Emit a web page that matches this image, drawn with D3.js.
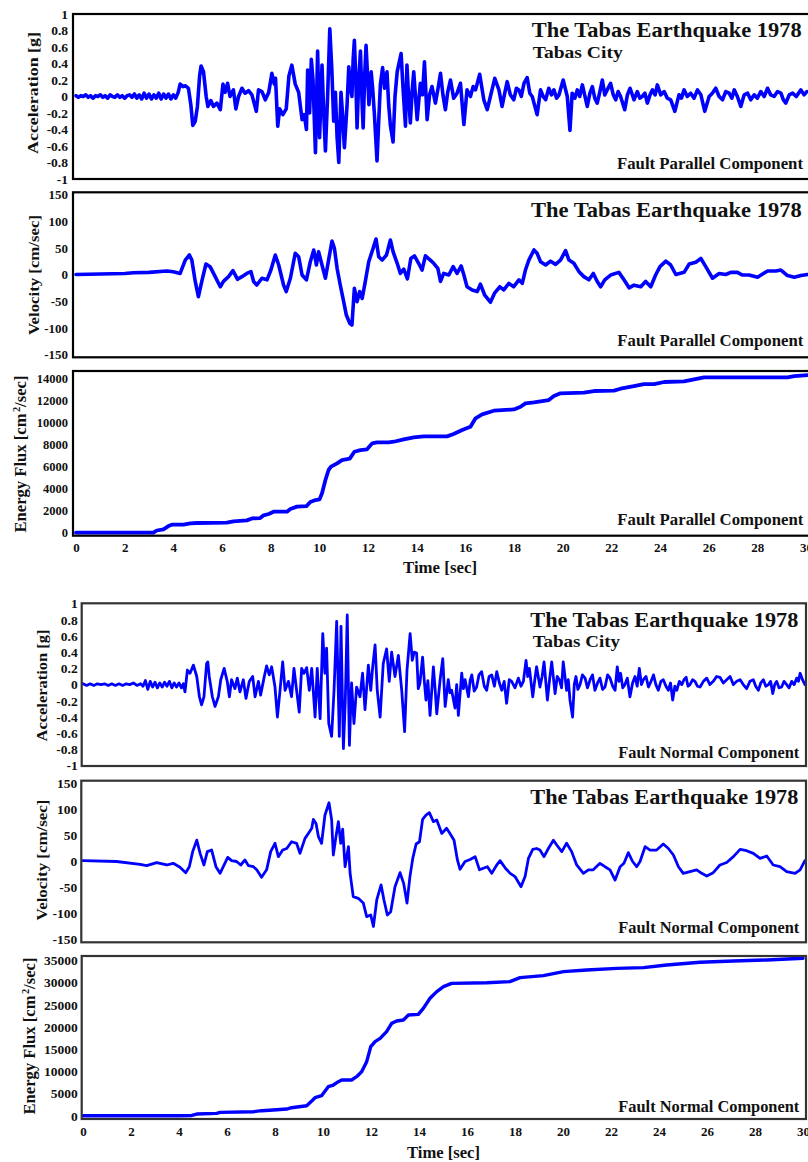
<!DOCTYPE html>
<html><head><meta charset="utf-8">
<script src="https://cdn.jsdelivr.net/npm/d3@7"></script>
<style>
body{margin:0;background:#fff;}
svg text{font-family:"Liberation Serif","Times New Roman",serif;font-weight:bold;fill:#111;}
</style></head><body>
<svg id="c" width="808" height="1162"></svg>
<script>
// ---------------- DATA ----------------
const timeTicks = [0,2,4,6,8,10,12,14,16,18,20,22,24,26,28,30];
const accTicks = [-1,-0.8,-0.6,-0.4,-0.2,0,0.2,0.4,0.6,0.8,1];
const velTicks = [-150,-100,-50,0,50,100,150];
const efluxTicksFP = [0,2000,4000,6000,8000,10000,12000,14000];
const efluxTicksFN = [0,5000,10000,15000,20000,25000,30000,35000];

const titleText = "The Tabas Earthquake 1978";
const stationText = "Tabas City";
const compFP = "Fault Parallel Component";
const compFN = "Fault Normal Component";

// Fault parallel acceleration [g]  ([time s, value])
const accFP = [
[0,0.01],[0.1,-0.01],[0.2,0.01],[0.3,0],[0.4,0.02],[0.5,-0.01],[0.6,0.01],[0.7,-0.02],[0.8,0.01],[0.9,0],
[1.0,0.02],[1.1,-0.01],[1.2,0.01],[1.3,-0.02],[1.4,0.02],[1.5,0],[1.6,-0.01],[1.7,0.02],[1.8,-0.01],[1.9,0.01],
[2.0,-0.02],[2.1,0.01],[2.2,0.02],[2.3,-0.01],[2.4,0.03],[2.5,-0.02],[2.6,0.02],[2.7,-0.03],[2.8,0.04],[2.9,-0.02],
[3.0,0.03],[3.1,-0.03],[3.2,0.02],[3.3,-0.02],[3.4,0.04],[3.5,-0.03],[3.6,0.03],[3.7,-0.02],[3.8,0.03],[3.9,-0.03],
[4.0,0.02],[4.1,-0.02],[4.2,0.05],[4.28,0.15],[4.4,0.12],[4.5,0.13],[4.62,0.10],[4.72,-0.10],[4.80,-0.35],[4.90,-0.30],
[4.99,-0.12],[5.08,0.25],[5.14,0.37],[5.24,0.30],[5.35,0.0],[5.42,-0.12],[5.54,-0.05],[5.65,-0.12],[5.79,-0.08],[5.93,-0.16],
[6.04,0.15],[6.13,0.05],[6.23,0.16],[6.33,0.0],[6.47,0.08],[6.57,-0.15],[6.68,0.0],[6.82,0.10],[6.95,0.04],[7.09,0.07],
[7.23,0.02],[7.41,-0.18],[7.50,0.08],[7.64,0.06],[7.78,-0.04],[7.92,0.05],[8.05,0.28],[8.15,0.15],[8.20,0.22],[8.29,-0.36],
[8.37,-0.15],[8.50,-0.22],[8.64,-0.15],[8.75,0.25],[8.87,0.38],[9.01,0.15],[9.15,0.05],[9.29,-0.28],[9.38,-0.22],[9.47,-0.40],
[9.52,0.32],[9.60,-0.20],[9.67,0.45],[9.74,0.20],[9.84,-0.68],[9.93,0.55],[10.01,-0.50],[10.11,0.38],[10.18,-0.20],[10.25,-0.66],
[10.34,0.0],[10.43,0.82],[10.51,0.35],[10.59,-0.30],[10.66,0.05],[10.73,-0.50],[10.80,-0.80],[10.89,0.05],[10.95,-0.20],[11.03,-0.62],
[11.14,-0.10],[11.21,0.36],[11.28,0.10],[11.34,0.0],[11.39,0.45],[11.44,0.68],[11.50,0.20],[11.55,-0.38],[11.62,0.20],[11.69,0.55],
[11.76,-0.10],[11.80,-0.38],[11.87,0.30],[11.92,0.62],[11.99,0.20],[12.04,-0.10],[12.13,0.30],[12.19,0.10],[12.26,-0.20],[12.37,-0.78],
[12.44,-0.30],[12.51,0.15],[12.60,0.35],[12.68,0.10],[12.78,0.30],[12.85,-0.10],[12.92,-0.35],[13.03,-0.55],[13.11,0.0],[13.20,0.30],
[13.36,0.52],[13.45,0.05],[13.54,-0.36],[13.60,0.38],[13.67,0.0],[13.74,-0.32],[13.81,0.05],[13.88,0.30],[13.95,0.0],[14.02,-0.28],
[14.15,0.16],[14.24,0.02],[14.32,0.42],[14.43,-0.28],[14.53,0.02],[14.63,0.12],[14.77,-0.08],[14.88,0.10],[14.98,0.28],[15.08,0.02],
[15.18,-0.16],[15.28,0.06],[15.39,0.20],[15.52,-0.02],[15.66,0.04],[15.80,0.16],[15.94,-0.34],[16.07,0.08],[16.21,0],[16.32,0.12],
[16.42,0.08],[16.59,0.27],[16.76,-0.04],[16.90,-0.16],[17.03,0],[17.21,0.22],[17.38,0.08],[17.51,-0.12],[17.62,0.04],[17.72,0.18],
[17.85,0.02],[17.99,-0.04],[18.10,0.10],[18.20,0.08],[18.30,0.0],[18.41,0.16],[18.54,0.23],[18.65,0.04],[18.75,0],[18.95,-0.22],
[19.09,0.08],[19.20,0.0],[19.30,-0.04],[19.43,0.10],[19.54,0.02],[19.64,0.08],[19.75,-0.02],[19.85,0.02],[20.02,0.20],[20.19,0],
[20.30,-0.41],[20.39,0.04],[20.50,-0.02],[20.60,0.08],[20.70,0.0],[20.81,0.14],[21.01,-0.12],[21.12,0.04],[21.22,0.12],[21.32,-0.02],
[21.42,-0.08],[21.53,0.06],[21.63,0.20],[21.73,0.02],[21.83,0.08],[21.97,0.16],[22.08,0.02],[22.18,-0.04],[22.28,0.06],[22.38,0],
[22.55,-0.16],[22.66,0.02],[22.77,0.10],[22.93,-0.04],[23.07,0.06],[23.17,-0.02],[23.27,0],[23.38,0.04],[23.48,-0.08],[23.59,0.02],
[23.69,0.08],[23.80,0.02],[23.89,0.14],[24.03,0.02],[24.17,0.06],[24.30,-0.02],[24.44,-0.04],[24.61,-0.18],[24.78,0.02],[24.88,-0.02],
[24.99,0.08],[25.12,0.0],[25.26,0.04],[25.40,-0.02],[25.54,0.08],[25.68,0.02],[25.84,-0.18],[26.02,0],[26.15,0.04],[26.29,0.10],
[26.43,0.0],[26.57,-0.04],[26.70,0.06],[26.84,0.04],[26.95,-0.02],[27.05,0.08],[27.18,0.0],[27.32,-0.12],[27.46,0.02],[27.60,0.04],
[27.73,-0.04],[27.87,0.02],[28.00,-0.02],[28.14,0.06],[28.28,0.0],[28.42,0.10],[28.55,0.02],[28.69,0],[28.83,0.06],[28.97,0.04],
[29.07,-0.04],[29.17,-0.08],[29.31,0.02],[29.45,0.04],[29.60,0.0],[29.79,0.08],[29.92,0.02],[30.04,0.06]
];

// Fault parallel velocity [cm/sec]
const velFP = [
[0,0],[1,1],[2,2],[2.36,3.4],[3,4],[3.73,6.6],[4.0,5],[4.28,2],[4.49,27],[4.66,36.6],
[4.76,27],[4.9,-13],[5.03,-41.5],[5.17,-13],[5.34,19.7],[5.51,14.7],[5.72,-4],[5.93,-23],[6.06,-13],[6.27,-4],
[6.45,7.2],[6.64,-9],[6.82,-4],[7.02,2],[7.19,5.3],[7.3,-13],[7.43,-19.7],[7.64,-7],[7.85,-10],[8.01,8.4],
[8.19,36.6],[8.33,17.8],[8.53,-19.7],[8.64,-32],[8.81,-7],[9.01,39.7],[9.15,33.4],[9.29,-1],[9.47,-10],[9.63,24],
[9.77,46],[9.88,17.8],[9.97,42.8],[10.11,17.8],[10.25,-7],[10.38,27],[10.52,62.8],[10.62,49],[10.73,11.6],[10.86,-19.7],
[11.0,-51],[11.11,-76],[11.25,-91.6],[11.34,-94.7],[11.44,-26],[11.55,-51],[11.66,-32],[11.76,-45],[11.89,-13],[12.03,24],
[12.21,49],[12.33,66.6],[12.44,33.4],[12.58,27],[12.76,36.6],[12.92,64.7],[13.03,42.8],[13.2,21],[13.33,2],[13.47,10],
[13.62,-8],[13.76,30],[13.91,35],[14.08,21],[14.22,8.4],[14.36,35],[14.56,27],[14.7,21],[14.87,11.6],[14.98,-13],
[15.11,2],[15.32,-1],[15.5,14.7],[15.66,2],[15.83,16],[15.94,-1],[16.07,-23],[16.28,-29],[16.49,-32],[16.62,-18],
[16.79,-38],[17.03,-52],[17.2,-35],[17.42,-23],[17.58,-29],[17.79,-16.6],[17.99,-23],[18.2,-10],[18.34,-16.6],[18.47,8.4],
[18.61,27],[18.82,46],[18.95,39.7],[19.09,24],[19.3,17.8],[19.5,25],[19.71,19],[19.91,27],[20.12,44.7],[20.26,27],
[20.46,21],[20.67,5.3],[20.87,-4],[21.08,-10],[21.26,2],[21.42,-13],[21.56,-23],[21.73,-10],[21.97,-1],[22.31,4],
[22.52,-10],[22.73,-25],[22.93,-20],[23.21,-23],[23.41,-13],[23.62,-23],[23.82,-1],[24.0,14.7],[24.24,25],[24.44,17.8],
[24.65,0],[24.99,4],[25.2,19.7],[25.47,23],[25.68,30],[25.88,14.7],[26.16,-7],[26.43,2],[26.7,0],[26.91,4],
[27.18,4],[27.39,-1],[27.66,-1],[28.01,-5],[28.42,6.5],[28.76,6.5],[28.97,8.4],[29.24,-2],[29.52,-5],[29.79,-2],[30.07,0]
];

// Fault parallel energy flux [cm^2/sec]
const efluxFP = [
[0,0],[3.18,0],[3.32,200],[3.59,300],[3.8,600],[3.94,730],[4.42,730],[4.69,850],[4.97,880],[6.2,910],
[6.47,1030],[7.02,1120],[7.23,1300],[7.57,1330],[7.71,1580],[7.92,1700],[8.12,1910],[8.67,1910],[8.81,2150],[9.08,2370],
[9.47,2420],[9.63,2790],[9.84,2970],[10.01,3030],[10.11,3580],[10.25,4790],[10.38,5700],[10.48,6000],[10.73,6300],[10.93,6600],
[11.25,6730],[11.44,7360],[11.69,7510],[11.96,7580],[12.17,8120],[12.37,8210],[12.85,8210],[13.06,8270],[13.47,8490],[13.88,8670],
[14.29,8760],[15.25,8760],[15.52,8970],[15.87,9340],[16.21,9640],[16.42,10400],[16.69,10760],[17.17,11090],[18.0,11210],[18.27,11450],
[18.47,11760],[18.82,11850],[19.43,12060],[19.64,12420],[19.91,12670],[20.87,12730],[21.29,12880],[22.11,12910],[22.38,13090],[22.93,13330],
[23.34,13510],[23.76,13510],[24.17,13700],[24.99,13760],[25.4,13940],[25.81,14120],[29.24,14120],[29.52,14240],[30.07,14330]
];

// Fault normal acceleration [g]
const accFN = [
[0,0.01],[0.15,-0.01],[0.3,0.01],[0.45,-0.01],[0.6,0.01],[0.75,0],[0.9,0.01],[1.05,-0.01],[1.2,0.01],[1.35,-0.01],
[1.5,0.01],[1.65,-0.01],[1.8,0.01],[1.95,0],[2.1,0.02],[2.25,-0.01],[2.4,0.01],[2.5,-0.02],[2.6,0.05],[2.7,-0.06],
[2.8,0.04],[2.9,-0.03],[3.0,0.03],[3.1,-0.04],[3.2,0.02],[3.3,-0.03],[3.4,0.03],[3.5,-0.02],[3.6,0.04],[3.7,-0.04],
[3.8,0.02],[3.9,-0.03],[4.0,0.02],[4.1,-0.04],[4.18,0.01],[4.25,-0.09],[4.35,0.18],[4.46,0.14],[4.6,0.24],[4.74,0.10],
[4.85,-0.15],[4.94,-0.25],[5.04,-0.15],[5.15,0.26],[5.2,0.28],[5.26,0.10],[5.39,-0.15],[5.5,-0.27],[5.64,-0.15],[5.74,0.06],
[5.88,0.20],[6.01,0.04],[6.1,-0.15],[6.19,0.06],[6.33,-0.05],[6.43,0.08],[6.54,-0.09],[6.68,0.06],[6.79,-0.17],[6.93,0.04],
[7.07,0.10],[7.17,-0.15],[7.31,0.04],[7.4,-0.13],[7.54,0.08],[7.65,0.23],[7.76,0.12],[7.86,0.22],[8.0,-0.03],[8.1,-0.40],
[8.21,-0.07],[8.32,0.28],[8.42,-0.07],[8.56,0.04],[8.69,-0.15],[8.79,0.20],[8.9,-0.07],[9.01,-0.34],[9.11,0.20],[9.21,0.14],
[9.32,0.21],[9.43,-0.07],[9.53,0.20],[9.67,-0.40],[9.76,0.20],[9.88,-0.42],[9.99,0.63],[10.08,0.14],[10.15,0.45],[10.24,-0.48],
[10.36,-0.64],[10.46,-0.07],[10.57,0.78],[10.68,-0.64],[10.75,0.72],[10.85,-0.79],[10.93,-0.19],[11.01,0.86],[11.1,-0.75],[11.19,0.02],
[11.29,-0.48],[11.4,-0.03],[11.54,-0.15],[11.65,0.14],[11.75,-0.31],[11.89,0.24],[11.99,-0.07],[12.07,0.22],[12.17,0.49],[12.26,-0.07],
[12.38,-0.40],[12.51,0.26],[12.65,0.44],[12.76,0.04],[12.86,0.40],[13.0,0.10],[13.14,0.36],[13.28,-0.07],[13.4,-0.58],[13.5,0.18],
[13.63,0.63],[13.72,0.30],[13.8,0.40],[13.9,0.39],[13.97,-0.05],[14.04,0.02],[14.15,0.34],[14.22,0.05],[14.29,-0.19],[14.37,0.05],
[14.46,-0.38],[14.6,0.22],[14.67,-0.05],[14.74,-0.36],[14.88,0.06],[14.99,0.32],[15.09,-0.27],[15.22,0.06],[15.29,-0.10],[15.36,-0.07],
[15.5,-0.29],[15.57,0.0],[15.64,-0.38],[15.78,0.14],[15.85,-0.05],[15.92,0.06],[16.06,-0.15],[16.13,0.05],[16.2,0.12],[16.3,-0.08],
[16.4,-0.03],[16.5,0.12],[16.61,0.16],[16.72,-0.02],[16.82,-0.07],[16.92,0.10],[17.03,0.12],[17.14,-0.02],[17.24,0.16],[17.35,0.02],
[17.45,-0.07],[17.55,0.04],[17.65,-0.23],[17.76,0.06],[17.86,0.04],[18.0,-0.04],[18.14,0.08],[18.25,-0.02],[18.35,0.04],[18.46,0.30],
[18.53,0.10],[18.6,0.20],[18.74,-0.15],[18.82,0.05],[18.9,0.22],[19.04,-0.03],[19.13,0.10],[19.21,0.28],[19.35,-0.19],[19.44,0.06],
[19.53,0.28],[19.67,-0.11],[19.76,0.10],[19.85,0.06],[19.94,-0.04],[20.01,0.28],[20.15,-0.07],[20.22,0.06],[20.29,-0.19],[20.4,-0.40],
[20.47,0.0],[20.54,0.10],[20.62,-0.06],[20.71,0],[20.81,0.12],[20.92,0.08],[21.02,-0.04],[21.13,0.06],[21.23,0.12],[21.33,-0.07],
[21.44,0.02],[21.54,0.08],[21.65,-0.06],[21.75,-0.03],[21.86,0.12],[21.96,0.08],[22.07,-0.02],[22.17,-0.07],[22.26,0.22],[22.33,0.04],
[22.4,0.14],[22.49,-0.04],[22.58,0],[22.68,0.08],[22.79,-0.15],[22.9,0.02],[23.0,0.10],[23.09,-0.02],[23.18,0.20],[23.27,0.0],
[23.35,0.06],[23.46,0.10],[23.56,-0.03],[23.67,0.04],[23.77,0.12],[23.87,0.0],[23.97,-0.07],[24.08,0.04],[24.18,0.06],[24.29,-0.02],
[24.39,-0.07],[24.48,0.02],[24.57,-0.19],[24.66,-0.02],[24.74,-0.07],[24.85,0.04],[24.95,0],[25.04,0.06],[25.13,0.09],[25.21,-0.02],
[25.29,0],[25.4,0.06],[25.5,0.04],[25.6,-0.02],[25.71,-0.03],[25.85,0.04],[25.99,0.08],[26.12,0.0],[26.26,0.04],[26.4,0.10],
[26.54,0.09],[26.68,0.02],[26.82,0.06],[26.96,0.10],[27.1,0],[27.24,0.04],[27.38,0.06],[27.51,0.0],[27.65,-0.05],[27.79,0.04],
[27.93,0.06],[28.03,-0.02],[28.14,-0.07],[28.24,0.02],[28.35,0.06],[28.45,-0.02],[28.56,0],[28.65,0.04],[28.74,-0.11],[28.82,0.0],
[28.9,0.04],[29.0,-0.04],[29.11,-0.03],[29.21,0.04],[29.32,0],[29.42,-0.04],[29.53,0.04],[29.63,0.0],[29.74,0.08],[29.81,0.04],
[29.88,0.14],[29.98,0.06],[30.08,0]
];

// Fault normal velocity [cm/sec]
const velFN = [
[0,1.6],[1.4,0],[2.38,-5.4],[2.65,-8],[3.07,-2],[3.49,-6.7],[3.76,-3.5],[4.04,-11],[4.28,-21.5],[4.43,-10],
[4.57,19],[4.74,41],[4.88,15.7],[5.04,-6.7],[5.18,19],[5.36,22],[5.54,-10],[5.71,-22.8],[5.88,-6.7],[6.03,8],
[6.19,1.6],[6.4,0],[6.57,-6.7],[6.75,2.9],[6.89,-8],[7.1,-10],[7.24,-16],[7.44,-30.4],[7.65,-16],[7.82,19],
[8.0,35],[8.14,9.3],[8.32,22],[8.49,25],[8.69,38],[8.9,35],[9.04,15.7],[9.25,44.5],[9.39,54],[9.53,63.8],
[9.6,81],[9.71,73],[9.81,47.8],[9.94,35],[10.08,89],[10.25,113],[10.36,80],[10.43,12.5],[10.54,47.8],[10.64,76.6],
[10.74,35],[10.82,62],[10.92,-10],[11.06,28.5],[11.13,-22.8],[11.26,-67.6],[11.47,-70.8],[11.68,-80],[11.82,-106],[11.99,-103],
[12.1,-125],[12.24,-74],[12.42,-45],[12.54,-74],[12.68,-103],[12.82,-96.5],[13.0,-48.4],[13.21,-21.5],[13.36,-42],[13.5,-80],
[13.62,-30],[13.74,6],[13.88,33.6],[14.02,38],[14.15,81],[14.29,89],[14.43,94],[14.6,76.6],[14.74,79.8],[14.95,54],
[15.15,63.8],[15.29,54],[15.46,41],[15.6,2.9],[15.71,-15],[15.92,0],[16.13,4],[16.34,9.3],[16.52,-16],[16.68,-13],
[16.85,-10],[17.03,-22.8],[17.24,-6.7],[17.38,1.6],[17.6,-13],[17.8,-22.8],[18.0,-29],[18.25,-48.4],[18.42,-29],[18.56,6],
[18.74,23.4],[18.9,25],[19.04,22],[19.21,9.3],[19.39,25],[19.6,41],[19.74,31.7],[19.95,19],[20.15,35],[20.36,19],
[20.57,-6.7],[20.85,-22.8],[21.06,-16],[21.26,-16],[21.54,-3.5],[21.75,-10],[21.96,-16],[22.17,-35.6],[22.38,-10],[22.54,-3.5],
[22.72,17],[22.9,0],[23.07,-10],[23.21,0],[23.42,28.5],[23.63,22],[23.9,22],[24.18,33.6],[24.39,25],[24.6,12.5],
[24.81,-10],[25.01,-22.8],[25.29,-19.5],[25.57,-16],[25.78,-22.8],[25.99,-27.9],[26.26,-21.5],[26.54,-6.7],[26.82,-2],[27.1,9.3],
[27.38,23.4],[27.65,20.8],[27.93,15.7],[28.21,6],[28.49,10.6],[28.76,-6.7],[29.04,-10],[29.32,-19.5],[29.67,-22.8],[29.88,-16],[30.08,1.6]
];

// Fault normal energy flux [cm^2/sec]
const efluxFN = [
[0,0],[4.04,0],[4.53,50],[4.74,375],[5.57,525],[5.71,750],[7.1,900],[7.44,1130],[7.93,1280],[8.49,1500],
[8.69,1800],[9.32,2250],[9.53,3300],[9.67,4050],[9.94,4500],[10.22,6530],[10.43,6910],[10.64,7660],[10.78,8040],[11.19,8040],
[11.4,8790],[11.61,9910],[11.82,12170],[11.99,15550],[12.17,16670],[12.38,17420],[12.65,18930],[12.86,20800],[13.07,21330],[13.35,21550],
[13.56,22680],[13.97,22830],[14.18,24180],[14.46,26440],[14.74,27940],[15.02,29060],[15.36,29810],[16.82,29960],[17.79,30190],[18.21,31090],
[19.18,31540],[20.02,32440],[20.99,32820],[22.24,33190],[23.35,33340],[24.32,33950],[25.71,34550],[27.1,34850],[28.49,35070],[30.0,35450]
];

// ---------------- LAYOUT ----------------
const svg = d3.select("#c");
const xTop = d3.scaleLinear([0,30],[76,806]);
const xBot = d3.scaleLinear([0,30],[83,803]);

const panels = [
 {data:accFP, x:xTop, y:d3.scaleLinear([-1,1],[179,14]), box:[73,14,812,179], ticks:accTicks, tfs:13.5, pad:5,
  ylab:["Acceleration [g]"], lab:{cx:32.5,cy:93,len:122,fs:15.5}, frame:"#000", sw:3.6,
  texts:[{t:titleText,x:801.7,y:37.3,len:270,fs:21,anchor:"end"},{t:stationText,x:532.7,y:58.3,len:90,fs:17,anchor:"start"},{t:compFP,x:803,y:168.5,len:186,fs:16,anchor:"end"}]},
 {data:velFP, x:xTop, y:d3.scaleLinear([-150,150],[354.5,194.5]), box:[73,192.3,812,357.3], ticks:velTicks, tfs:13, pad:5,
  ylab:["Velocity [cm/sec]"], lab:{cx:34,cy:275,len:120,fs:15.5}, frame:"#000", sw:3.6,
  texts:[{t:titleText,x:801.7,y:216.7,len:270.7,fs:21,anchor:"end"},{t:compFP,x:803.3,y:346,len:186,fs:16,anchor:"end"}]},
 {data:efluxFP, x:xTop, y:d3.scaleLinear([0,14000],[532.7,378.7]), box:[73,371,812,535.7], ticks:efluxTicksFP, tfs:12.5, pad:5,
  energy:true, lab:{cx:20,cy:454,fs:16.6}, frame:"#000", sw:3.8, xaxis:{y:535.7,pad:6.6,label:{x:440,y:573,len:74,fs:16}},
  texts:[{t:compFP,x:803.3,y:524.5,len:186,fs:16,anchor:"end"}]},
 {data:accFN, x:xBot, y:d3.scaleLinear([-1,1],[765.6,603.6]), box:[81.7,603.3,806,766], ticks:accTicks, tfs:13.5, pad:4,
  ylab:["Acceleration [g]"], lab:{cx:42,cy:685.5,len:112,fs:15}, frame:"#333", sw:2.8,
  texts:[{t:titleText,x:798.3,y:626.7,len:268,fs:21,anchor:"end"},{t:stationText,x:532.7,y:647.3,len:87.3,fs:17,anchor:"start"},{t:compFN,x:799.3,y:757.7,len:181,fs:16,anchor:"end"}]},
 {data:velFN, x:xBot, y:d3.scaleLinear([-150,150],[939.5,783.5]), box:[81.3,780.7,806,942.3], ticks:velTicks, tfs:13.5, pad:4,
  ylab:["Velocity [cm/sec]"], lab:{cx:42,cy:860,len:121,fs:15}, frame:"#333", sw:2.8,
  texts:[{t:titleText,x:798.3,y:804,len:268,fs:21,anchor:"end"},{t:compFN,x:799.3,y:933.3,len:181,fs:16,anchor:"end"}]},
 {data:efluxFN, x:xBot, y:d3.scaleLinear([0,35000],[1115.7,960.3]), box:[81.7,956,806,1119], ticks:efluxTicksFN, tfs:13.5, pad:4,
  energy:true, lab:{cx:29,cy:1036,fs:16.6}, frame:"#333", sw:3.4, xaxis:{y:1119,pad:7.3,label:{x:443.5,y:1157.5,len:73,fs:16}},
  texts:[{t:compFN,x:799.3,y:1111.7,len:181,fs:16,anchor:"end"}]}
];

panels.forEach((p,i)=>{
  const [x0,y0,x1,y1] = p.box;
  const g = svg.append("g");
  const cid = "clip"+i;
  svg.append("clipPath").attr("id",cid).append("rect")
     .attr("x",x0).attr("y",y0).attr("width",x1-x0).attr("height",y1-y0);

  // line
  const line = d3.line().x(d=>p.x(d[0])).y(d=>p.y(d[1]));
  g.append("path").datum(p.data).attr("clip-path",`url(#${cid})`)
   .attr("d",line).attr("fill","none").attr("stroke","#0000ff")
   .attr("stroke-width",p.sw).attr("stroke-linejoin","round").attr("stroke-linecap","round");

  // frame
  g.append("rect").attr("x",x0).attr("y",y0).attr("width",x1-x0).attr("height",y1-y0)
   .attr("fill","none").attr("stroke",p.frame).attr("stroke-width",2.2);

  // y axis
  const ya = g.append("g").attr("transform",`translate(${x0},0)`)
    .call(d3.axisLeft(p.y).tickValues(p.ticks).tickSize(0).tickPadding(p.pad).tickFormat(d=>String(d)));
  ya.select(".domain").remove();
  ya.attr("font-family",null).attr("font-size",null);
  ya.selectAll("text").attr("font-size",p.tfs);

  // x axis
  if (p.xaxis){
    const xa = g.append("g").attr("transform",`translate(0,${p.xaxis.y})`)
      .call(d3.axisBottom(p.x).tickValues(timeTicks).tickSize(0).tickPadding(p.xaxis.pad).tickFormat(d=>String(d)));
    xa.select(".domain").remove();
    xa.attr("font-family",null).attr("font-size",null);
    xa.selectAll("text").attr("font-size",13);
    const L = p.xaxis.label;
    g.append("text").attr("x",L.x).attr("y",L.y).attr("text-anchor","middle")
     .attr("font-size",L.fs).attr("textLength",L.len).attr("lengthAdjust","spacingAndGlyphs").text("Time [sec]");
  }

  // y label
  const lb = g.append("text").attr("transform",`translate(${p.lab.cx},${p.lab.cy}) rotate(-90)`)
     .attr("text-anchor","middle").attr("dy","0.35em").attr("font-size",p.lab.fs);
  if (p.energy){
    lb.append("tspan").text("Energy Flux [cm");
    lb.append("tspan").attr("font-size","0.62em").attr("dy","-0.55em").attr("dx","0.15em").text("2");
    lb.append("tspan").attr("dy","0.34em").text("/sec]");
  } else {
    lb.attr("textLength",p.lab.len).attr("lengthAdjust","spacingAndGlyphs").text(p.ylab[0]);
  }

  // annotations
  p.texts.forEach(t=>{
    g.append("text").attr("x",t.x).attr("y",t.y).attr("text-anchor",t.anchor)
     .attr("font-size",t.fs).attr("textLength",t.len).attr("lengthAdjust","spacingAndGlyphs").text(t.t);
  });
});
</script>
</body></html>
